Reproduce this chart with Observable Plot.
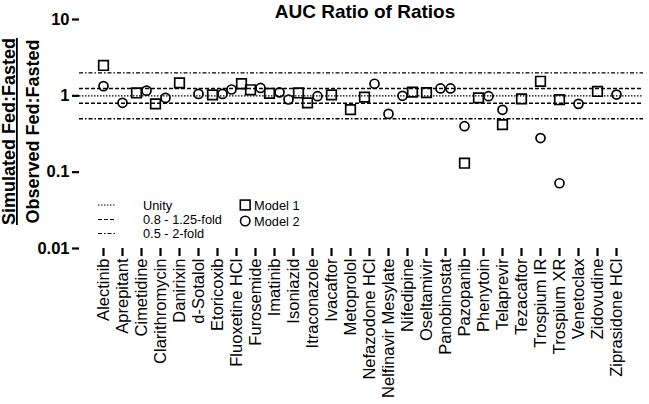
<!DOCTYPE html>
<html><head><meta charset="utf-8">
<script src="https://cdn.jsdelivr.net/npm/d3@7"></script>
<script src="https://cdn.jsdelivr.net/npm/@observablehq/plot@0.6"></script>
<style>
body{margin:0;background:#fff;}
svg{font-family:"Liberation Sans",Arial,Helvetica,sans-serif;}
</style>
</head><body><div id="chart"></div>
<script>
const title = "AUC Ratio of Ratios";
const yLabelTop = "Simulated Fed:Fasted";
const yLabelBottom = "Observed Fed:Fasted";
const drugs = ["Alectinib","Aprepitant","Cimetidine","Clarithromycin","Danirixin","d-Sotalol","Etoricoxib","Fluoxetine HCl","Furosemide","Imatinib","Isoniazid","Itraconazole","Ivacaftor","Metoprolol","Nefazodone HCl","Nelfinavir Mesylate","Nifedipine","Oseltamivir","Panobinostat","Pazopanib","Phenytoin","Telaprevir","Tezacaftor","Trospium IR","Trospium XR","Venetoclax","Zidovudine","Ziprasidone HCl"];
const model1 = [2.5,null,1.09,0.785,1.48,null,1.03,1.44,1.2,1.08,1.09,0.81,1.03,0.66,0.96,null,1.12,1.1,1.25,0.131,0.94,0.42,0.91,1.55,0.89,null,1.14,null];
const model2 = [1.34,0.81,1.17,0.94,null,1.06,1.06,1.21,1.27,1.11,0.895,0.99,null,null,1.44,0.58,1.0,null,1.25,0.40,0.99,0.656,null,0.28,0.0716,0.785,null,1.04];
const model1AsCircle = ["Panobinostat"];
const squareLeft = ["Cimetidine","Clarithromycin","Etoricoxib","Furosemide","Imatinib","Itraconazole","Nefazodone HCl","Phenytoin","Panobinostat"];
const circleLeft = ["Fluoxetine HCl","Isoniazid","Nifedipine"];
const yTicks = [0.01,0.1,1,10];
const yTickLabels = ["0.01","0.1","1","10"];
const unity = [1];
const fold125 = [0.8,1.25];
const fold2 = [0.5,2];
const refLegend = ["Unity","0.8 - 1.25-fold","0.5 - 2-fold"];
const modelLegend = ["Model 1","Model 2"];

const points = [];
drugs.forEach((d,i)=>{
  if(model1[i]!=null) points.push({drug:d, model:"Model 1", value:model1[i],
    side: squareLeft.includes(d)?-1:(circleLeft.includes(d)?1:0),
    shape: model1AsCircle.includes(d)?"circle":"square"});
  if(model2[i]!=null) points.push({drug:d, model:"Model 2", value:model2[i],
    side: squareLeft.includes(d)?1:(circleLeft.includes(d)?-1:0),
    shape:"circle"});
});

const dotMarks = [];
for (const shape of ["square","circle"]) for (const side of [-1,0,1]) {
  const sub = points.filter(p=>p.shape===shape && p.side===side);
  if (sub.length) dotMarks.push(Plot.dot(sub,{x:"drug",y:"value",symbol:shape,
    r: shape==="square"?5.4:4.5, stroke:"black", strokeWidth:1.7, fill:"none", dx: side*5}));
}

const W=649,H=404,ML=79,MR=6,MT=19,MB=156;
const chart = Plot.plot({
  width:W, height:H, marginLeft:ML, marginRight:MR, marginTop:MT, marginBottom:MB,
  style:{fontFamily:"Liberation Sans, Arial, Helvetica, sans-serif", color:"black", overflow:"visible"},
  x:{type:"point", domain:drugs, insetLeft:13, insetRight:16, padding:0},
  y:{type:"log", domain:[0.01,10]},
  marks:[
    Plot.ruleY(unity,{stroke:"black",strokeWidth:1.4,strokeDasharray:"1.5,1.5"}),
    Plot.ruleY(fold125,{stroke:"black",strokeWidth:1.4,strokeDasharray:"4,2"}),
    Plot.ruleY(fold2,{stroke:"black",strokeWidth:1.4,strokeDasharray:"4,2,1.5,2"}),
    ...dotMarks,
    Plot.axisY({ticks:yTicks, tickFormat:(d)=>yTickLabels[yTicks.indexOf(d)], tickSize:7, tickPadding:3,
      fontSize:16, fontWeight:"bold", strokeWidth:2.2, line:true, label:null, stroke:"black", color:"black"}),
    Plot.axisX({tickSize:8, tickPadding:2, tickRotate:-90, fontSize:16.5, strokeWidth:2.2, line:true, label:null, stroke:"black", color:"black"})
  ]
});
document.getElementById("chart").appendChild(chart);
const svg = d3.select(chart);
svg.selectAll("text").each(function(){
  const t = this.textContent;
  if (drugs.includes(t)) { this.style.fontSize = "16.5px"; this.style.fontWeight = "normal"; }
  if (yTickLabels.includes(t)) { this.style.fontSize = "16.5px"; this.style.fontWeight = "bold"; }
});

svg.append("text").attr("x",365).attr("y",17.5).attr("text-anchor","middle")
  .style("font-size","19px").style("font-weight","bold").attr("fill","black").text(title);
svg.append("text").attr("transform","translate(15,131.5) rotate(-90)").attr("text-anchor","middle")
  .style("font-size","18px").style("font-weight","bold").attr("fill","black")
  .style("text-decoration","underline").text(yLabelTop);
svg.append("text").attr("transform","translate(38.5,131.5) rotate(-90)").attr("text-anchor","middle")
  .style("font-size","18px").style("font-weight","bold").attr("fill","black").text(yLabelBottom);

const legRows=[205,219.5,233.5];
const dashes=["1.5,1.5","4,2","4,2,1.5,2"];
refLegend.forEach((t,i)=>{
  svg.append("line").attr("x1",98).attr("x2",115).attr("y1",legRows[i]).attr("y2",legRows[i])
    .attr("stroke","black").attr("stroke-width",1.2).attr("stroke-dasharray",dashes[i]);
  svg.append("text").attr("x",143).attr("y",legRows[i]).attr("dy","0.36em").attr("text-anchor","start")
    .style("font-size","12.8px").attr("fill","black").text(t);
});
svg.append("rect").attr("x",240.3).attr("y",200.1).attr("width",9.8).attr("height",9.8)
  .attr("fill","none").attr("stroke","black").attr("stroke-width",1.6);
svg.append("circle").attr("cx",245.2).attr("cy",221).attr("r",4.7)
  .attr("fill","none").attr("stroke","black").attr("stroke-width",1.6);
modelLegend.forEach((t,i)=>{
  svg.append("text").attr("x",254).attr("y",[205,221][i]).attr("dy","0.36em").attr("text-anchor","start")
    .style("font-size","12.8px").attr("fill","black").text(t);
});
</script></body></html>
